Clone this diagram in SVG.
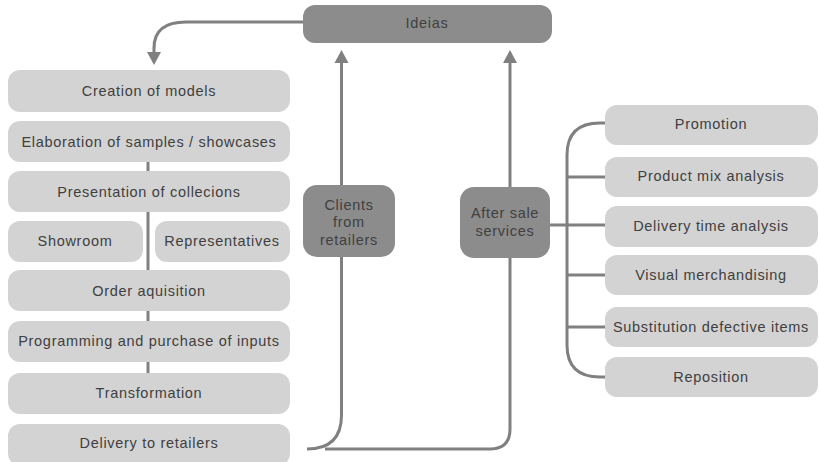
<svg xmlns="http://www.w3.org/2000/svg" width="819" height="462" viewBox="0 0 819 462">
<defs>
<marker id="ah" markerUnits="userSpaceOnUse" markerWidth="16" markerHeight="16" viewBox="0 0 16 16" refX="2" refY="8" orient="auto">
<path d="M0,1 L13,8 L0,15 Z" fill="#808080"/>
</marker>
</defs>
<style>
.lt{fill:#d3d3d3}
.dk{fill:#8c8c8c}
text{font-family:"Liberation Sans",Arial,sans-serif;font-size:14.5px;letter-spacing:0.7px;fill:#404040;text-anchor:middle;dominant-baseline:central}
.ln{fill:none;stroke:#808080;stroke-width:3}
</style>
<rect width="819" height="462" fill="#ffffff"/>
<g id="connectors">
<path class="ln" d="M303,22 H186 Q154,22 154,48 V54" marker-end="url(#ah)"/>
<path class="ln" d="M341.5,185 V61" marker-end="url(#ah)"/>
<path class="ln" d="M510,187 V61" marker-end="url(#ah)"/>
<path class="ln" d="M307,449 Q341.5,449 341.5,415 V257"/>
<path class="ln" d="M325,449 H490 Q510,449 510,429 V258"/>
<path class="ln" d="M148,162 V171 M148,212 V270 M148,311 V321 M148,362 V373"/>
<path class="ln" d="M550,225 H605"/>
<path class="ln" d="M605,123 H600 Q567,123 567,155 V345 Q567,377 600,377 H605"/>
<path class="ln" d="M567,177 H605 M567,275 H605 M567,327 H605"/>
</g>
<g id="ideias"><rect class="dk" x="303" y="5" width="249" height="38" rx="12"/><text x="427" y="23">Ideias</text></g>
<g id="creation"><rect class="lt" x="8" y="70" width="282" height="42" rx="12"/><text x="149" y="91">Creation of models</text></g>
<g id="elaboration"><rect class="lt" x="8" y="121" width="282" height="41" rx="12"/><text x="149" y="142">Elaboration of samples / showcases</text></g>
<g id="presentation"><rect class="lt" x="8" y="171" width="282" height="41" rx="12"/><text x="149" y="192">Presentation of collecions</text></g>
<g id="showroom"><rect class="lt" x="8" y="221" width="135" height="41" rx="12"/><text x="75" y="241">Showroom</text></g>
<g id="representatives"><rect class="lt" x="155" y="221" width="135" height="41" rx="12"/><text x="222" y="241">Representatives</text></g>
<g id="order"><rect class="lt" x="8" y="270" width="282" height="41" rx="12"/><text x="149" y="291">Order aquisition</text></g>
<g id="programming"><rect class="lt" x="8" y="321" width="282" height="41" rx="12"/><text x="149" y="341">Programming and purchase of inputs</text></g>
<g id="transformation"><rect class="lt" x="8" y="373" width="282" height="41" rx="12"/><text x="149" y="393">Transformation</text></g>
<g id="delivery"><rect class="lt" x="8" y="424" width="282" height="42" rx="12"/><text x="149" y="443">Delivery to retailers</text></g>
<g id="clients"><rect class="dk" x="303" y="185" width="92" height="72" rx="14"/><text x="349" y="205">Clients</text><text x="349" y="222">from</text><text x="349" y="240">retailers</text></g>
<g id="aftersale"><rect class="dk" x="460" y="187" width="90" height="71" rx="14"/><text x="505" y="213">After sale</text><text x="505" y="231">services</text></g>
<g id="promotion"><rect class="lt" x="605" y="105" width="213" height="40" rx="12"/><text x="711" y="124">Promotion</text></g>
<g id="productmix"><rect class="lt" x="605" y="157" width="213" height="40" rx="12"/><text x="711" y="176">Product mix analysis</text></g>
<g id="deliverytime"><rect class="lt" x="605" y="206" width="213" height="41" rx="12"/><text x="711" y="226">Delivery time analysis</text></g>
<g id="visual"><rect class="lt" x="605" y="255" width="213" height="40" rx="12"/><text x="711" y="275">Visual merchandising</text></g>
<g id="substitution"><rect class="lt" x="605" y="307" width="213" height="40" rx="12"/><text x="711" y="327">Substitution defective items</text></g>
<g id="reposition"><rect class="lt" x="605" y="357" width="213" height="40" rx="12"/><text x="711" y="377">Reposition</text></g>
</svg>
